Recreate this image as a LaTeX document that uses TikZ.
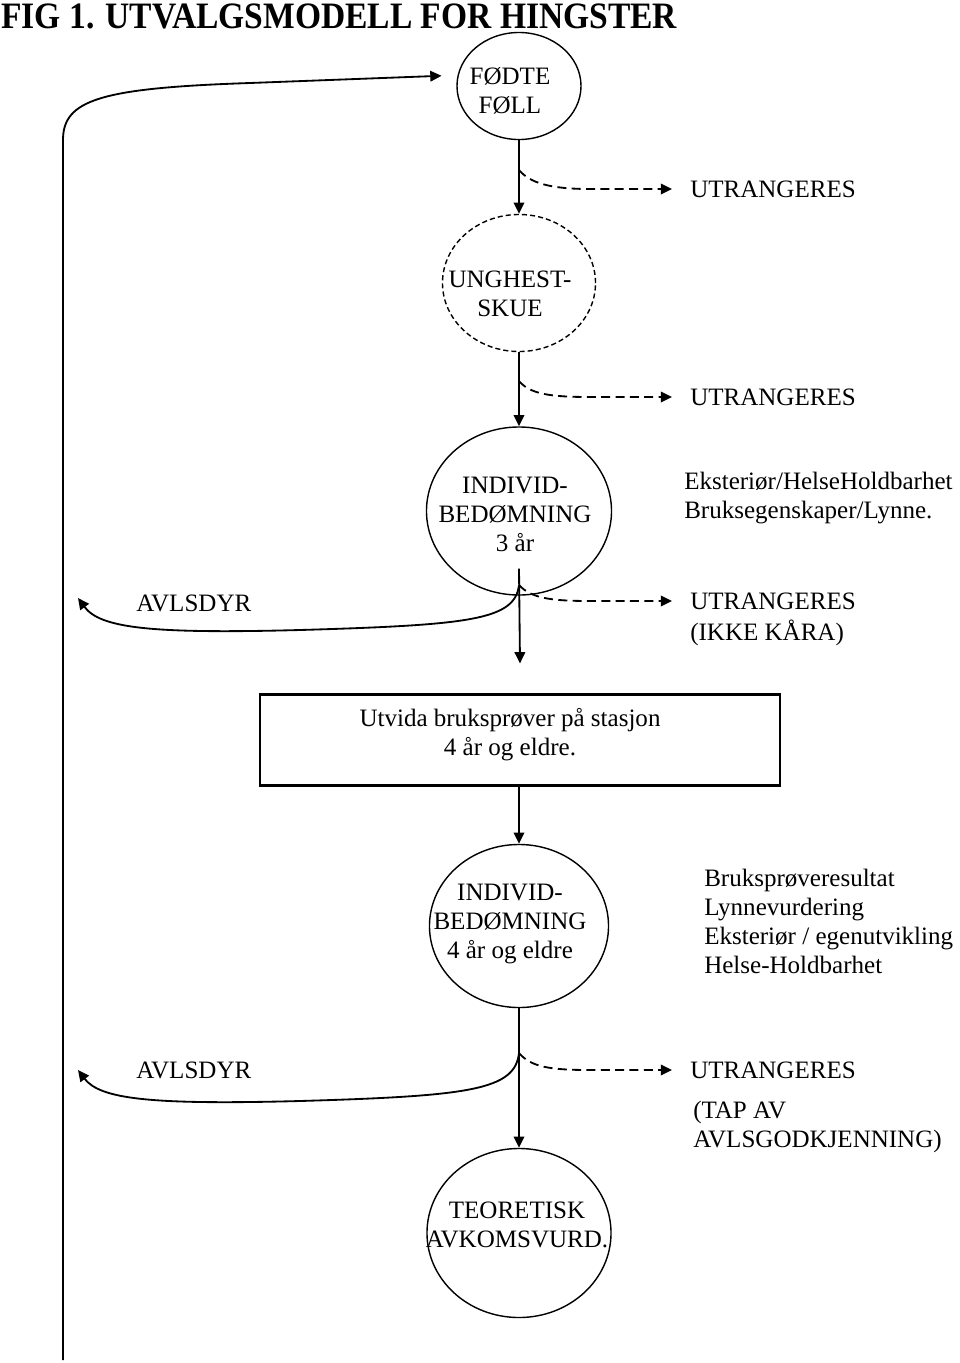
\documentclass[tikz,border=0pt]{standalone}
\usepackage{fontspec}
\setmainfont{Liberation Serif}
\usepackage{tikz}
\usetikzlibrary{arrows.meta,shapes.geometric,positioning}

\tikzset{
  krets/.style={ellipse, draw, line width=1pt, inner sep=0pt},
  strek/.style={dash pattern=on 3.6pt off 2.2pt},
  pil/.style={-{Triangle[length=8pt,width=7.5pt]}, line width=1.3pt},
  brutt/.style={pil, dash pattern=on 6.4pt off 3.8pt, shorten >=0.45cm},
  tekst/.style={inner sep=0pt, font=\fontsize{17.8}{20.6}\selectfont},
  boks/.style={draw, line width=1.5pt, inner sep=0pt}
}

\begin{document}
\begin{tikzpicture}[x=0.025cm,y=-0.025cm]
\useasboundingbox (0,0) rectangle (960,1363);

\node[tekst, anchor=west, font=\fontsize{26.5}{30}\selectfont\bfseries] (tittel) at (1,16) {\scalebox{0.9}[1]{FIG 1. UTVALGSMODELL FOR HINGSTER}};

% ellipser
\node[krets, minimum width=3.1cm, minimum height=2.675cm] (fodte) at (519,86) {};
\node[krets, strek, minimum width=3.825cm, minimum height=3.425cm] (unghest) at (519,283) {};
\node[krets, minimum width=4.625cm, minimum height=4.2cm] (indiv3) at (519,511) {};
\node[krets, minimum width=4.475cm, minimum height=4.075cm] (indiv4) at (519,926) {};
\node[krets, minimum width=4.6cm, minimum height=4.225cm] (teoretisk) at (519,1233) {};
\node[boks, minimum width=13cm, minimum height=2.275cm] (bruk) at (520,740) {};

\node[tekst, align=center] (fodtetxt) at (510,91) {FØDTE\\FØLL};
\node[tekst, align=center] (unghesttxt) at (510,294) {UNGHEST-\\SKUE};
\node[tekst, align=center] (indiv3txt) at (515,514) {INDIVID-\\BEDØMNING\\3 år};
\node[tekst, align=center] (bruktxt) at (510,735) {Utvida bruksprøver på stasjon\\4 år og eldre.};
\node[tekst, align=center] (indiv4txt) at (510,924) {INDIVID-\\BEDØMNING\\4 år og eldre};
\node[tekst, align=center] (teoretisktxt) at (517,1225) {TEORETISK\\AVKOMSVURD.};

% tekst til hoyre og venstre
\node[tekst, anchor=west] (utr1) at (690,189) {UTRANGERES};
\node[tekst, anchor=west] (utr2) at (690,397) {UTRANGERES};
\node[tekst, anchor=west, align=left] (krit3) at (684,498) {Eksteriør/HelseHoldbarhet\\Bruksegenskaper/Lynne.};
\node[tekst, anchor=west] (utr3) at (690,601) {UTRANGERES};
\node[tekst, anchor=west] (ikke) at (690,633) {(IKKE KÅRA)};
\node[tekst, anchor=west] (avls1) at (136,603) {AVLSDYR};
\node[tekst, anchor=west, align=left] (krit4) at (704,921) {Bruksprøveresultat\\Lynnevurdering\\Eksteriør / egenutvikling\\Helse-Holdbarhet};
\node[tekst, anchor=west] (utr4) at (690,1070) {UTRANGERES};
\node[tekst, anchor=west, align=left] (tap) at (693,1127) {(TAP AV\\AVLSGODKJENNING)};
\node[tekst, anchor=west] (avls2) at (136,1070) {AVLSDYR};

\coordinate (g1) at (519,170);
\coordinate (g2) at (519,381);
\coordinate (g3) at (519,585);
\coordinate (g4) at (519,1053);
\coordinate (avlsmal1) at (78,598);
\coordinate (avlsmal2) at (78,1070);
\coordinate (bunn) at (63,1360);

% hovedlinja
\draw[pil] (fodte) -- (unghest);
\draw[pil] (unghest) -- (indiv3);
\draw[pil] ([yshift=0.68cm]indiv3.south) -- ([yshift=0.75cm]bruk.north);
\draw[pil] (bruk.south -| indiv4) -- (indiv4);
\draw[pil] (indiv4) -- (teoretisk);

% utrangering
\draw[brutt] (g1) .. controls (530,183) and (550,189) .. (590,189) -- (utr1.west);
\draw[brutt] (g2) .. controls (530,394) and (550,397) .. (590,397) -- (utr2.west);
\draw[brutt] (g3) .. controls (531,598) and (550,601) .. (590,601) -- (utr3.west);
\draw[brutt] (g4) .. controls (531,1067) and (550,1070) .. (590,1070) -- (utr4.west);

% avlsdyr
\draw[pil] (g3) .. controls (515,620) and (470,625) .. (300,630) .. controls (150,634) and (100,628) .. (avlsmal1);
\draw[pil] (g4) .. controls (515,1090) and (470,1096) .. (300,1101) .. controls (150,1105) and (100,1099) .. (avlsmal2);

% tilbake til fodte fol
\draw[pil, shorten >=0.4cm] (bunn) -- (63,140) .. controls (63,100) and (100,88) .. (250,83) -- (fodte.170);
\end{tikzpicture}
\end{document}
